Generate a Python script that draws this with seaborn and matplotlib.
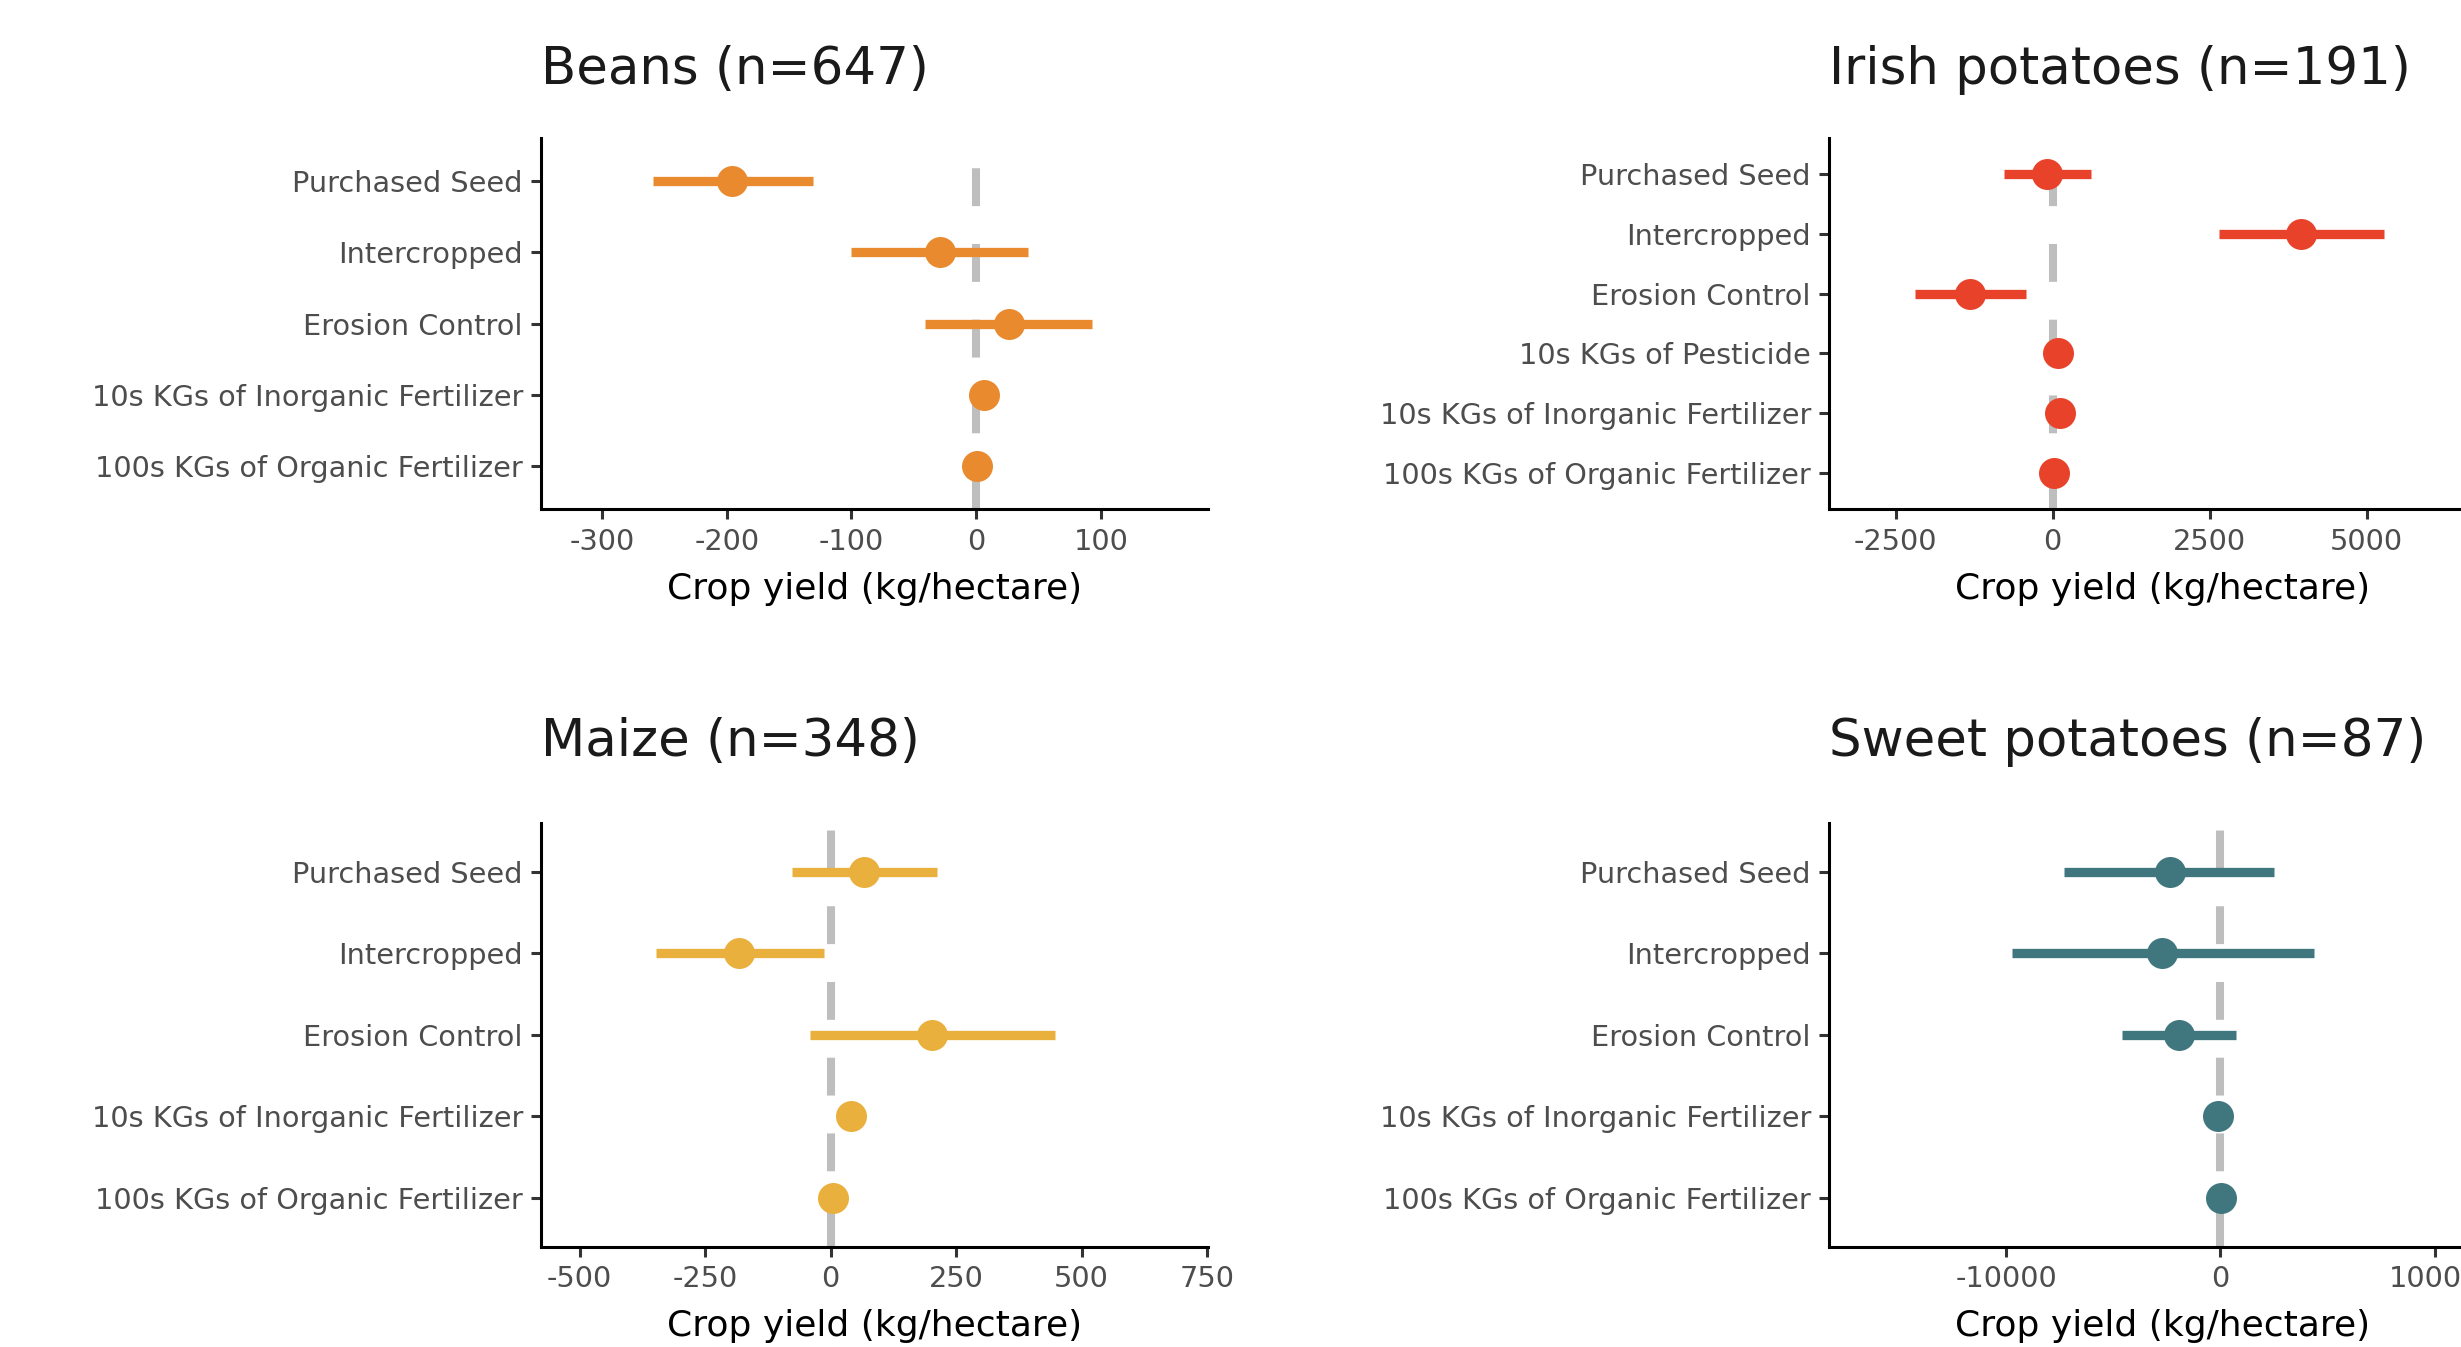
import numpy as np
import pandas as pd
import matplotlib
matplotlib.use("Agg")
import matplotlib.pyplot as plt
import seaborn as sns

# ---- practice labels (top to bottom) ----
practices = ["Purchased Seed", "Intercropped", "Erosion Control",
             "10s KGs of Inorganic Fertilizer", "100s KGs of Organic Fertilizer"]
practices_irish = ["Purchased Seed", "Intercropped", "Erosion Control",
                   "10s KGs of Pesticide", "10s KGs of Inorganic Fertilizer",
                   "100s KGs of Organic Fertilizer"]

crops = ["Beans", "Irish potatoes", "Maize", "Sweet potatoes"]
sample_sizes = [647, 191, 348, 87]
crop_colors = ["#E98A2F", "#E8432A", "#E9B03D", "#40777F"]

# ---- effect estimates and confidence intervals (kg/hectare) ----
beans_est = [-196, -29, 26, 6, 1]
beans_lo = [-259, -100, -41, np.nan, np.nan]
beans_hi = [-131, 42, 93, np.nan, np.nan]

irish_est = [-96, 3949, -1314, 91, 111, 14]
irish_lo = [-780, 2642, -2193, np.nan, np.nan, np.nan]
irish_hi = [610, 5271, -428, np.nan, np.nan, np.nan]

maize_est = [66, -182, 202, 41, 4]
maize_lo = [-77, -348, -41, np.nan, np.nan]
maize_hi = [213, -14, 448, np.nan, np.nan]

sweet_est = [-2370, -2716, -1927, -103, 42]
sweet_lo = [-7275, -9748, -4582, np.nan, np.nan]
sweet_hi = [2510, 4377, 747, np.nan, np.nan]

# ---- axis ticks / limits ----
beans_ticks = [-300, -200, -100, 0, 100]
irish_ticks = [-2500, 0, 2500, 5000]
maize_ticks = [-500, -250, 0, 250, 500, 750]
sweet_ticks = [-10000, 0, 10000]

beans_xlim = (-349, 186)
irish_xlim = (-3562, 7059)
maize_xlim = (-577, 752)
sweet_xlim = (-18264, 12860)

sns.set_theme(style="ticks")
plt.rcParams["font.family"] = ["DejaVu Sans"]
plt.rcParams["axes.unicode_minus"] = False

W, H, DPI = 2461, 1347, 100
fig = plt.figure(figsize=(W / DPI, H / DPI), dpi=DPI)
fig.patch.set_facecolor("white")

# axes boxes in pixels: (left, top, right, bottom)
boxes = [
    (541, 138, 1208, 509),
    (1829, 138, 2496, 509),
    (541, 823, 1208, 1246.5),
    (1829, 823, 2496, 1246.5),
]
title_pads = [39, 39, 48.5, 48.5]

panels = [
    (practices, beans_est, beans_lo, beans_hi, beans_ticks, beans_xlim),
    (practices_irish, irish_est, irish_lo, irish_hi, irish_ticks, irish_xlim),
    (practices, maize_est, maize_lo, maize_hi, maize_ticks, maize_xlim),
    (practices, sweet_est, sweet_lo, sweet_hi, sweet_ticks, sweet_xlim),
]

for i, (labels, est, lo, hi, ticks, xlim) in enumerate(panels):
    l, t, r, b = boxes[i]
    ax = fig.add_axes([l / W, 1 - b / H, (r - l) / W, (b - t) / H])
    color = crop_colors[i]
    df = pd.DataFrame({"practice": labels, "pos": np.arange(len(labels)),
                       "est": est, "lo": lo, "hi": hi})

    # reference line at zero
    ax.axvline(0, color="#BEBEBE", lw=5.8, linestyle=(0, (4.7, 4.7)), zorder=1)

    # confidence intervals
    ci = df.dropna(subset=["lo", "hi"])
    ax.hlines(ci["pos"], ci["lo"], ci["hi"], color=color, lw=6.7, zorder=2)

    # point estimates
    sns.scatterplot(data=df, x="est", y="pos", ax=ax, color=color, s=498,
                    linewidth=0, zorder=3, legend=False)

    ax.set_xlim(*xlim)
    ax.set_ylim(len(labels) - 0.4, -0.6)
    ax.set_yticks(df["pos"])
    ax.set_yticklabels(labels)
    ax.set_xticks(ticks)
    ax.set_xticklabels([str(v) for v in ticks])

    sns.despine(ax=ax)
    for side in ("left", "bottom"):
        ax.spines[side].set_linewidth(2.2)
        ax.spines[side].set_color("black")
    ax.tick_params(axis="both", length=7.2, width=2.2, color="#333333",
                   labelsize=20.7, labelcolor="#4D4D4D")
    ax.tick_params(axis="x", pad=6.3)
    ax.tick_params(axis="y", pad=5.8)

    ax.set_ylabel("")
    ax.set_xlabel("Crop yield (kg/hectare)", fontsize=26, color="black",
                  labelpad=11.5)
    ax.set_title(f"{crops[i]} (n={sample_sizes[i]})", loc="left",
                 fontsize=37, color="#1A1A1A", pad=title_pads[i])
    ax.set_facecolor("white")
    ax.grid(False)

fig.savefig("out.png", dpi=DPI, facecolor="white")
